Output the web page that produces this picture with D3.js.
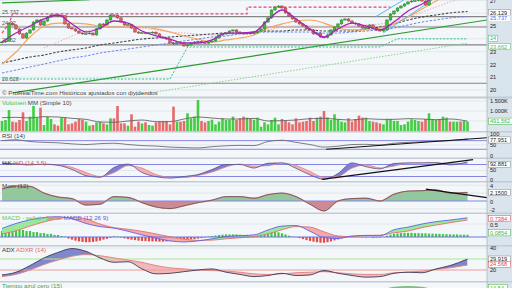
<!DOCTYPE html>
<html><head><meta charset="utf-8">
<script src="https://cdn.jsdelivr.net/npm/d3@7"></script>
<style>
html,body{margin:0;padding:0;background:#f4f7fa;overflow:hidden}
svg{display:block}
text{font-family:"Liberation Sans",Arial,sans-serif}
</style></head><body>
<svg id="c" width="512" height="288"></svg>
<script>
// ---------- DATA ----------
const closes=[23.75,23.83,25.23,25.08,24.77,24.38,24.06,24.45,24.69,25.31,
25.47,25.08,25.39,25.70,25.86,25.84,25.78,25.80,25.16,24.84,
24.77,24.61,24.45,24.38,24.40,24.45,24.30,24.77,25.16,25.08,
25.47,25.86,25.84,25.63,25.31,25.08,25.10,24.84,24.53,24.45,
24.47,24.43,24.47,24.52,24.38,24.14,24.06,23.98,23.67,23.60,
23.68,23.67,23.44,23.52,23.67,23.75,23.80,23.70,23.66,23.75,
23.83,24.06,24.30,24.38,24.45,24.61,24.69,24.53,24.45,24.38,
24.45,24.40,24.47,24.61,24.77,25.31,25.63,26.25,26.48,26.56,
26.41,26.02,25.78,25.55,25.31,25.16,25.00,24.77,24.69,24.38,
24.45,24.14,24.10,24.30,24.69,24.92,25.16,25.47,25.55,25.39,
25.23,25.16,25.00,24.84,24.86,25.08,24.84,24.69,24.61,24.69,
25.47,25.94,26.17,26.41,26.56,26.72,26.88,26.95,26.97,27.10,
26.95,26.64,27.35,27.60,27.80,27.70,27.90,28.10,28.00,28.20,
28.30,28.25,28.40,28.50];
const firstOpen=23.70;
const volumes=[500,550,1050,467,433,550,933,500,717,1250,667,1167,300,717,600,333,267,667,667,333,
383,467,600,567,467,267,300,433,467,383,333,633,633,1250,383,383,267,833,217,467,
383,433,300,267,433,467,500,500,333,1217,467,467,500,883,633,717,1550,500,433,500,
567,333,467,633,550,567,717,550,633,717,667,633,567,
667,217,433,333,550,667,333,600,500,433,333,633,433,467,500,667,500,667,717,1000,
683,550,833,600,467,433,633,467,600,767,667,667,500,467,433,383,333,600,600,500,
500,300,333,467,583,550,500,467,600,883,583,550,600,717,667,467,467,467,467,500,467];
// indicator lines, read every 4th bar (last point = last bar)
const volMA=[667,683,650,717,700,633,583,450,433,500,550,467,467,600,700,650,600,600,633,500,517,550,617,633,583,550,617,583,583,617,600,567,600,491.562];
const purpleMA=[23.75,24.45,25.0,25.55,25.86,25.16,24.53,24.84,25.39,25.23,24.61,24.22,23.98,23.67,23.67,23.91,24.45,24.45,24.53,25.47,26.25,25.55,24.77,24.14,24.77,25.23,25.0,24.69,25.31,26.17,26.72,27.34,27.97,28.59];
const orangeMA=[22.03,22.97,24.14,25.0,25.23,25.23,25.16,25.0,24.92,24.92,24.92,24.77,24.53,24.22,23.98,23.75,23.91,24.06,24.3,24.84,25.16,25.39,25.47,25.23,24.84,24.69,24.69,24.84,25.16,25.7,26.33,26.95,27.58,28.2];
const blackDashed=[22.11,22.34,22.58,22.73,22.97,23.13,23.28,23.52,23.67,23.83,23.98,24.06,24.14,24.22,24.3,24.38,24.45,24.45,24.53,24.61,24.61,24.69,24.69,24.61,24.61,24.61,24.77,24.92,25.16,25.47,25.7,25.86,26.02,26.129];
const blueDashed=[21.33,21.56,21.8,22.03,22.27,22.5,22.66,22.89,23.05,23.2,23.36,23.52,23.67,23.83,23.98,24.14,24.22,24.38,24.45,24.53,24.53,24.53,24.53,24.45,24.45,24.53,24.61,24.69,24.84,25.08,25.31,25.47,25.63,25.737];
const pinkDotted=[null,null,null,23.28,23.75,24.22,24.61,24.84,24.92,24.92,24.84,24.69,24.53,24.45,24.38,24.3,24.3,24.38,24.45,24.69,24.92,25.0,25.0,24.92,24.92,25.0,25.08,25.16,25.39,25.7,26.09,26.48,26.88,27.27];
const supportLevels=[25.737,24.92,23.52,20.528];
const levelNames=["25.737","24.92","23.52","20.528"];
const stopLine=[[0,20.86],[48,20.86],[53,23.36],[108,23.36],[113,24.0],[133,24.0]];
const resistLine=[[0,24.45],[2,25.16],[3,25.94],[70,25.94],[70,26.48],[111,26.48]];
const greenTrend=[[3.1,19.77],[138.6,25.47]];
const greenTop=[[0,26.8],[25.1,27.05]];
const greenDotted=[[36.6,19.53],[133,23.662]];
const blueChanA=[[106.6,25.7],[116.6,27.34]];
const blueChanB=[[108.9,24.45],[125,27.42]];
const priceTicks=[20,21,22,23,25,27];

const rsi=[70,74,66,62,60,55,52,56,58,52,47,45,40,38,36,42,46,48,47,66,72,62,52,40,44,52,53,50,58,62,65,68,70,77.951];
const rsiTrend=[[92.6,30],[139,84]];
const stochK=[86,82,78,82,76,55,24,16,65,82,40,19,12,20,30,55,80,80,62,86,88,61,28,6,35,88,69,58,85,88,88,89,78,92.881];
const stochD=[84,84,80,80,78,66,40,20,40,74,62,30,16,15,25,42,68,82,72,74,87,75,45,16,20,62,78,63,72,87,88,88,84,86];
const stochTrend=[[91.4,6],[134.6,104]];
const momentum=[3.0,3.8,3.7,2.0,1.0,0.6,-1.0,-0.8,1.1,0.9,-0.4,-1.5,-1.9,-1.2,-0.4,0.2,1.1,1.1,0.7,1.6,2.0,1.1,-0.8,-2.5,0.0,0.6,0.7,0.0,1.7,2.5,2.6,2.8,2.0,2.15];
const momTrend=[[121.1,3.0],[138.6,0.85]];
const macd=[0.33,0.52,0.66,0.75,0.78,0.70,0.52,0.40,0.34,0.22,0.08,-0.04,-0.15,-0.19,-0.15,-0.07,0.02,0.05,0.08,0.27,0.42,0.44,0.22,-0.02,-0.06,0.04,0.06,0.05,0.28,0.38,0.50,0.59,0.65,0.7384];
const macdSignal=[0.12,0.24,0.42,0.58,0.70,0.76,0.70,0.50,0.36,0.30,0.22,0.12,0.01,-0.08,-0.13,-0.12,-0.07,-0.03,0.01,0.12,0.28,0.40,0.38,0.20,0.04,0.01,0.06,0.07,0.16,0.23,0.36,0.46,0.55,0.653];
const macdHist=[0.23,0.27,0.3,0.3,0.3,0.27,0.27,0.23,0.23,0.19,0.19,0.15,0.15,0.12,0.12,0.08,0.08,
0.04,0.02,
-0.06,-0.1,-0.14,-0.17,-0.19,-0.2,-0.2,-0.19,-0.17,-0.14,-0.1,-0.07,-0.03,
0.03,0.02,-0.02,-0.05,-0.08,
-0.1,-0.12,-0.14,-0.15,-0.16,-0.17,-0.17,-0.17,-0.18,-0.18,-0.17,-0.16,-0.15,-0.14,-0.13,-0.12,-0.1,-0.09,-0.08,-0.06,-0.04,-0.02,
0.02,0.04,0.06,0.08,0.09,0.1,0.1,0.1,0.1,0.09,0.08,0.08,0.07,0.07,
0.08,0.1,0.13,0.16,0.19,0.2,0.18,0.14,0.1,0.05,
0.02,-0.01,
-0.04,-0.08,-0.12,-0.15,-0.18,-0.2,-0.22,-0.22,-0.2,-0.17,-0.13,-0.09,-0.05,-0.02,
0.02,0.03,0.02,0.0,-0.01,-0.02,-0.01,-0.03,-0.02,
-0.02,0.01,
0.05,0.09,0.12,0.14,0.15,0.16,0.16,0.16,0.15,0.15,0.14,0.14,0.13,0.13,0.12,0.12,0.11,0.11,0.1,0.1,0.1,0.09,0.09,0.0854];
const adx=[15.5,18,24,31,36,39.5,37,31,27,27.5,21,16.5,17,18.5,20,21,18,16,14,15,17,15,15.5,19.5,17,15,13.5,14,17,18,17.5,21,24,29.919];
const adxr=[14,16,20,25,29,32.5,34,33,31,29,27,24,22,21,20,19.5,19,18,16.5,16,16.5,17.5,18,18.5,17.5,16.5,16,16,17.5,18,19,20.5,22,24.568];
const bottomOsc=[0,0,0,0,0,0,0,0,0,0,0,0,0,0,0,0,0,0,0,2,2,0,0,0,0,0,0,0,4,5,4,0,0,0];

// ---------- LAYOUT ----------
const N=closes.length, PR=487;
const svg=d3.select('#c');
const defs=svg.append('defs');
const x=d3.scaleLinear().domain([0,N-1]).range([2,467.5]);
const sIdx=d3.range(volMA.length).map(k=>k===volMA.length-1?N-1:k*4);
const S=arr=>arr.map((v,k)=>({i:sIdx[k],v}));

const P={price:[0,96.5],vol:[98.5,131],rsi:[132.5,157.5],sto:[159,181],mom:[182.5,212.5],macd:[214,245],adx:[246.5,281],bot:[282.5,290]};
const yP=d3.scaleLinear().domain([20,27]).range([90,0.4]);
const yV=d3.scaleLinear().domain([0,1500]).range([131,101]);
const yR=d3.scaleLinear().domain([0,100]).range([155.7,134.2]);
const yS=d3.scaleLinear().domain([0,100]).range([180.5,160.5]);
const yM=d3.scaleLinear().domain([0,4]).range([201,185.2]);
const yC=d3.scaleLinear().domain([0,0.5]).range([237,224]);
const yA=d3.scaleLinear().domain([20,40]).range([270,248]);
const yB=d3.scaleLinear().domain([0,10]).range([290,283]);

svg.append('rect').attr('width',512).attr('height',288).attr('fill','#f4f7fa');
svg.append('rect').attr('x',PR).attr('width',512-PR).attr('height',288).attr('fill','#dae4ed');

const G={};
Object.entries(P).forEach(([k,[t,b]])=>{
  defs.append('clipPath').attr('id','cl_'+k).append('rect').attr('x',0).attr('y',t).attr('width',PR).attr('height',b-t);
  G[k]=svg.append('g').attr('clip-path',`url(#cl_${k})`);
});
function hline(g,y,col,w,dash){const l=g.append('line').attr('x1',0).attr('x2',PR).attr('y1',y).attr('y2',y).attr('stroke',col).attr('stroke-width',w);if(dash)l.attr('stroke-dasharray',dash);return l;}
const lineG=ys=>d3.line().defined(d=>d.v!=null).x(d=>x(d.i)).y(d=>ys(d.v)).curve(d3.curveMonotoneX);
function drawLine(g,arr,ys,col,w,dash){const p=g.append('path').attr('d',lineG(ys)(S(arr))).attr('fill','none').attr('stroke',col).attr('stroke-width',w);if(dash)p.attr('stroke-dasharray',dash);return p;}
function drawSeg(g,pts,ys,col,w,dash){const p=g.append('path').attr('d',d3.line().x(d=>x(d[0])).y(d=>ys(d[1]))(pts)).attr('fill','none').attr('stroke',col).attr('stroke-width',w);if(dash)p.attr('stroke-dasharray',dash);return p;}
let cid=0;
function between(g,A,B,ys,top,bot,colA,colB){
  const d=sIdx.map((i,k)=>({i,a:A[k],b:B[k]}));
  const mk=(key)=>d3.area().x(p=>x(p.i)).y0(top).y1(p=>ys(p[key])).curve(d3.curveMonotoneX)(d);
  const fill=(key)=>d3.area().x(p=>x(p.i)).y0(bot).y1(p=>ys(p[key])).curve(d3.curveMonotoneX)(d);
  const id1='bw'+(cid++), id2='bw'+(cid++);
  defs.append('clipPath').attr('id',id1).append('path').attr('d',mk('b'));
  defs.append('clipPath').attr('id',id2).append('path').attr('d',mk('a'));
  g.append('path').attr('clip-path',`url(#${id1})`).attr('d',fill('a')).attr('fill',colA);
  g.append('path').attr('clip-path',`url(#${id2})`).attr('d',fill('b')).attr('fill',colB);
}

// ---------- PRICE ----------
const gp=G.price;
[20,21,22,23,24,25,26,27].forEach(v=>hline(gp,yP(v),'#dbe3ea',0.8));
supportLevels.forEach(v=>hline(gp,yP(v),'#858585',1.2));
supportLevels.forEach((v,k)=>gp.append('text').attr('x',2).attr('y',yP(v)-2.5).attr('font-size',5.5).attr('fill','#555').text(levelNames[k]));
drawSeg(gp,greenTop,yP,'#2e9a2e',1.2);
drawSeg(gp,greenTrend,yP,'#2e9a2e',1.2);
drawSeg(gp,greenDotted,yP,'#88d088',1,'1.5,1.5');
drawSeg(gp,stopLine,yP,'#2ec08c',1,'2,1.5');
drawSeg(gp,resistLine,yP,'#ee3c7a',1.2,'3,2');
drawLine(gp,pinkDotted,yP,'#f2a8b8',1,'1.5,1.5');
drawLine(gp,blueDashed,yP,'#6c86ee',1,'2.5,1.5');
drawLine(gp,blackDashed,yP,'#444',1.1,'2.5,1.5');
drawLine(gp,orangeMA,yP,'#f7a55a',1.2);
drawSeg(gp,blueChanA,yP,'#58b8f0',1);
drawSeg(gp,blueChanB,yP,'#58b8f0',1);
const opens=closes.map((c,i)=>i?closes[i-1]:firstOpen);
const bw=2.8;
const cg=gp.append('g');
closes.forEach((c,i)=>{
  const o=opens[i],up=c>=o,hi=Math.max(o,c)+0.07,lo=Math.min(o,c)-0.07;
  const col=up?'#3dbb3d':'#e06262',sc=up?'#24702a':'#8a3434';
  cg.append('line').attr('x1',x(i)).attr('x2',x(i)).attr('y1',yP(hi)).attr('y2',yP(lo)).attr('stroke',sc).attr('stroke-width',0.6);
  cg.append('rect').attr('x',x(i)-bw/2).attr('y',yP(Math.max(o,c))).attr('width',bw).attr('height',Math.max(0.8,Math.abs(yP(o)-yP(c)))).attr('fill',col).attr('stroke',sc).attr('stroke-width',0.4);
});
drawLine(gp,purpleMA,yP,'#a424b4',1.3);
svg.append('text').attr('x',2).attr('y',95).attr('font-size',6.2).attr('fill','#444').text('© ProRealTime.com Históricos ajustados con dividendos');

// ---------- VOLUME ----------
const gv=G.vol;
[500,1000,1500].forEach(v=>hline(gv,yV(v),'#dbe3ea',0.8));
volumes.forEach((v,i)=>{const up=closes[i]>=opens[i];
  gv.append('rect').attr('x',x(i)-1.3).attr('y',yV(v)).attr('width',2.6).attr('height',yV(0)-yV(v)).attr('fill',up?'#44cc44':'#e56a6a');});
drawLine(gv,volMA,yV,'#666',0.9);

// ---------- RSI ----------
const gr=G.rsi;
hline(gr,yR(50),'#dbe3ea',0.8);
defs.append('clipPath').attr('id','rsiHi').append('rect').attr('x',0).attr('y',P.rsi[0]).attr('width',PR).attr('height',yR(70)-P.rsi[0]);
gr.append('path').attr('clip-path','url(#rsiHi)').attr('fill','#f2a8b0').attr('d',d3.area().x(d=>x(d.i)).y0(yR(70)).y1(d=>yR(d.v)).curve(d3.curveMonotoneX)(S(rsi)));
hline(gr,yR(70),'#8585e6',1);hline(gr,yR(30),'#8585e6',1);
drawLine(gr,rsi,yR,'#6e6e6e',0.9);
drawSeg(gr,rsiTrend,yR,'#111',1.2);

// ---------- STOCH ----------
const gs=G.sto;
hline(gs,yS(50),'#dbe3ea',0.8);
between(gs,stochK,stochD,yS,P.sto[0]-5,P.sto[1]+5,'#7f7fd2','#f2b0b0');
hline(gs,yS(80),'#8585e6',1);hline(gs,yS(20),'#8585e6',1);
drawLine(gs,stochD,yS,'#e08080',0.8);
drawLine(gs,stochK,yS,'#55558a',0.8);
drawSeg(gs,stochTrend,yS,'#111',1.2);

// ---------- MOMENTUM ----------
const gm=G.mom;
[-2,2,4].forEach(v=>hline(gm,yM(v),'#dbe3ea',0.8));
defs.append('clipPath').attr('id','momUp').append('rect').attr('x',0).attr('y',P.mom[0]).attr('width',PR).attr('height',yM(0)-P.mom[0]);
defs.append('clipPath').attr('id','momDn').append('rect').attr('x',0).attr('y',yM(0)).attr('width',PR).attr('height',P.mom[1]-yM(0));
const mArea=d3.area().x(d=>x(d.i)).y0(yM(0)).y1(d=>yM(d.v)).curve(d3.curveMonotoneX)(S(momentum));
gm.append('path').attr('clip-path','url(#momUp)').attr('d',mArea).attr('fill','#93c79d');
gm.append('path').attr('clip-path','url(#momDn)').attr('d',mArea).attr('fill','#cc8a96');
hline(gm,yM(0),'#8585e6',1);
drawLine(gm,momentum,yM,'#e59090',1.4);
drawLine(gm,momentum,yM,'#4a4a4a',0.7);
drawSeg(gm,momTrend,yM,'#111',1.2);

// ---------- MACD ----------
const gc=G.macd;
hline(gc,yC(0.5),'#dbe3ea',0.8);
macdHist.forEach((v,i)=>{gc.append('rect').attr('x',x(i)-1.1).attr('width',2.2).attr('y',Math.min(yC(v),yC(0))).attr('height',Math.abs(yC(v)-yC(0))).attr('fill',v>=0?'#3ec83e':'#e04a4a');});
between(gc,macd,macdSignal,yC,P.macd[0]-5,P.macd[1]+5,'#9ae89a','#f2aaaa');
hline(gc,yC(0),'#7070e6',1);
drawLine(gc,macdSignal,yC,'#e47070',0.9);
drawLine(gc,macd,yC,'#6262ea',0.9);

// ---------- ADX ----------
const ga=G.adx;
hline(ga,yA(40),'#dbe3ea',0.8);
between(ga,adx,adxr,yA,P.adx[0]-5,P.adx[1]+5,'#7f88cc','#f2b8b8');
hline(ga,yA(30),'#aee88e',1.2);hline(ga,yA(20),'#f29a9a',1.2);
drawLine(ga,adxr,yA,'#e08080',0.9);
drawLine(ga,adx,yA,'#3c3c5a',0.9);

// ---------- BOTTOM ----------
const gb=G.bot;
gb.append('path').attr('d',d3.area().x(d=>x(d.i)).y0(yB(0)).y1(d=>yB(d.v)).curve(d3.curveMonotoneX)(S(bottomOsc))).attr('fill','#7ccf7c').attr('stroke','#3a9a3a').attr('stroke-width',0.5);

// ---------- SEPARATORS ----------
[[96.5,98.5],[131,132.5],[157.5,159],[181,182.5],[212.5,214],[245,246.5],[281,282.5]].forEach(([a,b])=>
  svg.append('rect').attr('x',0).attr('y',a).attr('width',512).attr('height',b-a).attr('fill','#c3ccd5'));
svg.append('line').attr('x1',PR).attr('x2',PR).attr('y1',0).attr('y2',288).attr('stroke','#a9b5c0').attr('stroke-width',0.8);

// ---------- PANEL TITLES ----------
function title(y,parts){const t=svg.append('text').attr('x',2).attr('y',y).attr('font-size',6.2);parts.forEach(([s,c])=>t.append('tspan').attr('fill',c).text(s));}
title(104.5,[['Volumen','#3cb83c'],[' MM (Simple 10)','#444']]);
title(138,[['RSI (14)','#444']]);
title(164.5,[['%K ','#333'],['%D (14 3 5)','#d05a5a']]);
title(188,[['Mom (12)','#444']]);
title(219.5,[['MACD - señal','#5cc85c'],[' - Señal ','#e06a6a'],['MACD (12 26 9)','#5a5ae0']]);
title(252,[['ADX ','#333'],['ADXR (14)','#e06a6a']]);
title(288,[['Tiempo azul cero (15)','#4aa04a']]);

// ---------- RIGHT AXES ----------
const FS=5.6;
function axis(ys,ticks,fmt){
  const g=svg.append('g').attr('transform',`translate(${PR+1},0)`).call(d3.axisRight(ys).tickValues(ticks).tickSize(0).tickPadding(2).tickFormat(fmt||(d=>d)));
  g.select('.domain').remove();
  g.selectAll('text').attr('font-size',FS).attr('fill','#222').attr('font-family','Liberation Sans, Arial, sans-serif');
  return g;
}
axis(yP,priceTicks);
axis(yV,[1000,1500],d=>d3.format(',')(d).replace(',','.')+'K');
axis(yR,[0,50,100]);
axis(yS,[0,50]).selectAll('text').attr('dy','0.2em');
axis(yM,[-2,0,4]).selectAll('text').attr('dy','0.42em');
axis(yC,[0.5]).selectAll('text').attr('dy','0.45em');
axis(yA,[20,40]);
function box(y,txt,col,stroke){
  const w=txt.length*3.15+3;
  svg.append('rect').attr('x',PR+1.5).attr('y',y-3.1).attr('width',w).attr('height',6.2).attr('fill','#fff').attr('stroke',stroke||col).attr('stroke-width',0.5);
  svg.append('text').attr('x',PR+3).attr('y',y+2).attr('font-size',FS).attr('fill',col).text(txt);
}
box(yP(blackDashed[33])+1,'26.129','#222','#888');
box(yP(blueDashed[33])+1.8,'25.737','#4a6ae6','#c8d4e4');
box(yP(24)-0.5,'24','#2ec08c');
box(yP(23.662)+3.5,'23.662','#55b855');
box(yV(volMA[33]),'491.562','#3cb83c');
box(yR(rsi[33])+1,'77.951','#222','#888');
box(yS(stochK[33])+2.5,'92.881','#222','#888');
box(yM(2.15),'2.1500','#222','#888');
box(yC(0.7384)+0.8,'0.7384','#e04848');
box(yC(0.0854)-2,'0.0854','#3cb83c');
box(yA(adx[33]),'29.919','#222','#888');
box(yA(adxr[33])-0.5,'24.568','#e04848');
box(287.5,'14.54','#3cb83c');
</script></body></html>
